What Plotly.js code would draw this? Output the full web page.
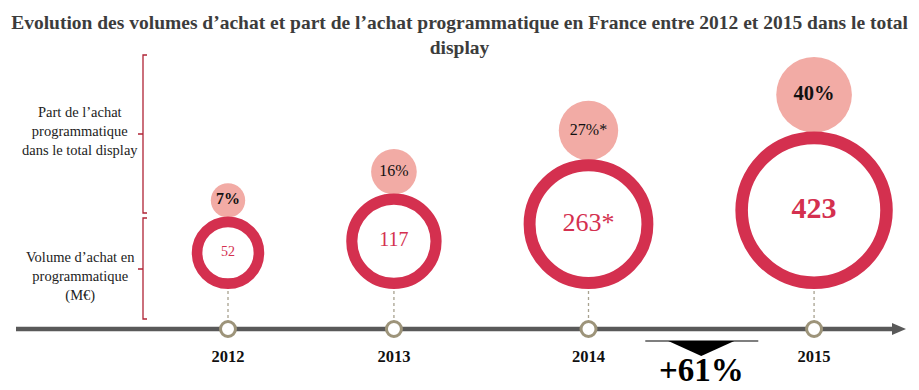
<!DOCTYPE html>
<html><head><meta charset="utf-8">
<script src="https://cdn.plot.ly/plotly-3.0.1.min.js"></script>
<style>html,body{margin:0;padding:0;background:#fff}#chart{width:919px;height:390px}</style>
</head><body><div id="chart"></div>
<script>
// ---- data ----
const years = ['2012', '2013', '2014', '2015'];
const volumes = [52, 117, 263, 423];          // Volume d'achat en programmatique (M€)
const shares = [7, 16, 27, 40];               // Part de l'achat programmatique (%)
const estimated = [false, false, true, false];
const rowLabels = ['Part de l’achat<br>programmatique<br>dans le total display',
                   'Volume d’achat en<br>programmatique<br>(M€)'];
const titleText = 'Evolution des volumes d’achat et part de l’achat programmatique en France entre 2012 et 2015 dans le total<br>display';

// ---- styles ----
const RED = '#d4304f', PINK = '#f2aba5', NODE = '#9d947a', AXIS = '#595959', BRACKET = '#b02436';
const SERIF = 'Liberation Serif, Times New Roman, serif';
const ringFont = [14, 20, 26, 30], ringBold = [false, false, false, true];
const pinkFont = [16, 16, 16, 20.5], pinkBold = [true, false, false, true];

// ---- scales (pixel-space axes) ----
const ringR = v => 13.3 + 3.18 * Math.sqrt(v);
const pinkR = p => 12.8 + 0.626 * p;
const ringT = r => 9 + 0.045 * r;
const X0 = 228, GAP = 82, BASE = 289, AXIS_Y = 329;

const rr = volumes.map(ringR);
const pr = shares.map(pinkR);
const xs = [];
rr.forEach((r, i) => { xs.push(i === 0 ? X0 : xs[i - 1] + rr[i - 1] + GAP + r); });
const ringY = rr.map(r => BASE - r);
const pinkY = rr.map((r, i) => BASE - 2 * r - pr[i] + 1);
const star = i => estimated[i] ? '*' : '';
const b = (s, on) => on ? '<b>' + s + '</b>' : s;

const traces = [];
// connectors
xs.forEach((x, i) => traces.push({
  x: [x, x], y: [BASE + 2, AXIS_Y - 9], mode: 'lines', hoverinfo: 'skip',
  line: {color: '#a8a290', width: 1.3, dash: 'dot'}
}));
// pink circles (share)
traces.push({
  x: xs, y: pinkY, mode: 'markers+text', hoverinfo: 'skip',
  marker: {size: pr.map(r => 2 * r), color: PINK, opacity: 1, line: {width: 0}},
  text: shares.map((s, i) => b(s + '%' + star(i), pinkBold[i])),
  textposition: 'middle center',
  textfont: {family: SERIF, size: pinkFont, color: '#111'}
});
// rings (volume)
traces.push({
  x: xs, y: ringY, mode: 'markers+text', hoverinfo: 'skip',
  marker: {size: rr.map(r => 2 * (r - ringT(r) / 2)), color: '#fff', opacity: 1,
           line: {color: RED, width: rr.map(ringT)}},
  text: volumes.map((v, i) => b(v + star(i), ringBold[i])),
  textposition: 'middle center',
  textfont: {family: SERIF, size: ringFont, color: RED}
});
// timeline nodes
traces.push({
  x: xs, y: xs.map(() => AXIS_Y), mode: 'markers', hoverinfo: 'skip',
  marker: {size: 15, color: '#fff', opacity: 1, line: {color: NODE, width: 3}}
});
// year labels
traces.push({
  x: xs, y: xs.map(() => 358), mode: 'text', hoverinfo: 'skip',
  text: years.map(y => '<b>' + y + '</b>'), textposition: 'middle center',
  textfont: {family: SERIF, size: 16.5, color: '#111'}
});

const growth = Math.round((volumes[3] / volumes[2] - 1) * 100);
const mid = (xs[2] + xs[3]) / 2;

const shapes = [
  {type: 'line', x0: 16, x1: 894, y0: AXIS_Y, y1: AXIS_Y, line: {color: AXIS, width: 4.5}, layer: 'below'},
  {type: 'path', path: `M 892 323 L 906 ${AXIS_Y} L 892 335 Z`, fillcolor: AXIS, line: {width: 0}, layer: 'below'},
  {type: 'path', path: 'M 147 55 L 143 55 L 143 213 L 147 213 M 143 134 L 138 134', line: {color: BRACKET, width: 1.3}},
  {type: 'path', path: 'M 147 218 L 143 218 L 143 319 L 147 319 M 143 269 L 138 269', line: {color: BRACKET, width: 1.3}},
  {type: 'line', x0: mid - 56, x1: mid + 57, y0: 341, y1: 341, line: {color: '#555', width: 1.5}},
  {type: 'path', path: `M ${mid - 33} 341 L ${mid + 33} 341 L ${mid} 356 Z`, fillcolor: '#000', line: {width: 0}}
];

const annotations = [
  {x: 80, y: 131, text: rowLabels[0], showarrow: false, font: {family: SERIF, size: 14.5, color: '#222'}, align: 'center'},
  {x: 80, y: 276, text: rowLabels[1], showarrow: false, font: {family: SERIF, size: 14.5, color: '#222'}, align: 'center'},
  {x: mid, y: 370, text: '<b>+' + growth + '%</b>', showarrow: false, font: {family: SERIF, size: 33, color: '#000'}}
];

const layout = {
  width: 919, height: 390, margin: {l: 0, r: 0, t: 0, b: 0},
  paper_bgcolor: '#fff', plot_bgcolor: '#fff', showlegend: false,
  title: {text: '<b>' + titleText + '</b>', x: 0.5, xanchor: 'center', y: 1 - 29 / 390, yref: 'container', yanchor: 'middle',
          font: {family: SERIF, size: 19.5, color: '#3c3c3c'}},
  xaxis: {range: [0, 919], visible: false, fixedrange: true},
  yaxis: {range: [390, 0], visible: false, fixedrange: true},
  shapes, annotations
};
Plotly.newPlot('chart', traces, layout, {displayModeBar: false, staticPlot: true});
</script></body></html>
